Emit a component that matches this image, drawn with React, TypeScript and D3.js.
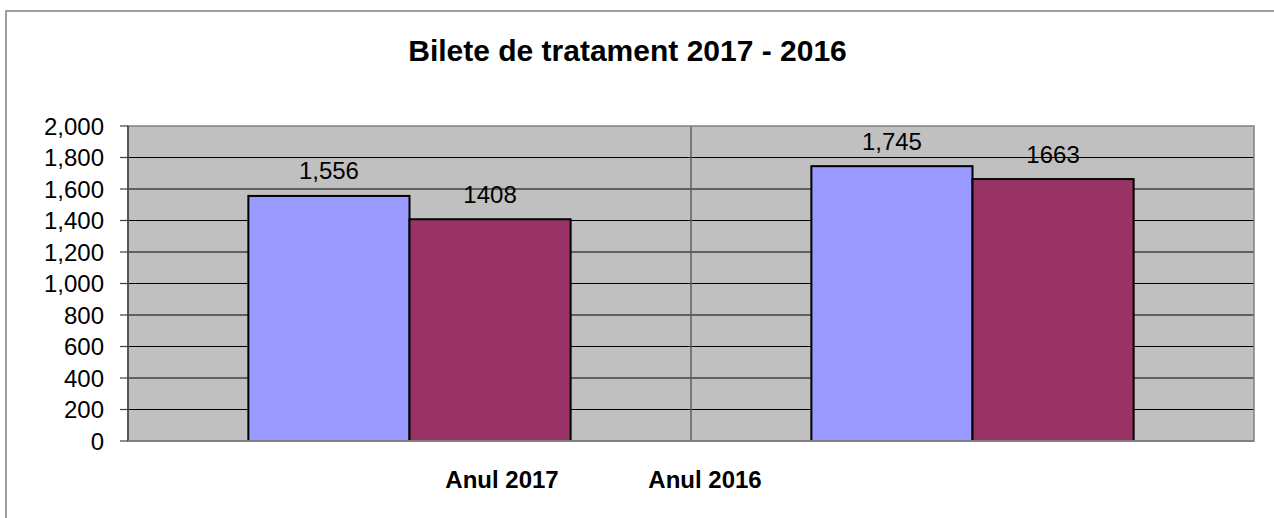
import React from 'react';
import * as d3 from 'd3';

// chart data
const categories = ['Anul 2017', 'Anul 2016'];
const seriesNames = ['Seria 1', 'Seria 2'];
const seriesBlue = [1556, 1745];
const seriesMaroon = [1408, 1663];
const yTicks = [0, 200, 400, 600, 800, 1000, 1200, 1400, 1600, 1800, 2000];
const titleText = 'Bilete de tratament 2017 - 2016';

const W = 1274;
const H = 518;
const plot = {left: 128, right: 1254, top: 126, bottom: 441};
const font = '"Liberation Sans", Arial, sans-serif';
const colors = ['#9999FF', '#993366'];
// the category labels sit off-centre in the original picture
const catLabelX = [502, 705];

export default function App() {
  const x = d3.scaleBand<string>().domain(categories).range([plot.left, plot.right]).paddingInner(0).paddingOuter(0);
  const xs = d3.scaleBand<string>().domain(seriesNames).range([0, x.bandwidth()]).paddingInner(0).paddingOuter(0.747);
  const y = d3.scaleLinear().domain([0, 2000]).range([plot.bottom, plot.top]);
  const fmt = d3.format(',');

  const series = [
    {name: seriesNames[0], values: seriesBlue, label: (v: number) => fmt(v)},
    {name: seriesNames[1], values: seriesMaroon, label: (v: number) => String(v)},
  ];

  return (
    <svg width={W} height={H} style={{position: 'absolute', left: 0, top: 0, background: '#fff'}} fontFamily={font}>
      {/* chart area border */}
      <rect x={6} y={11} width={W + 10} height={H + 10} fill="#fff" stroke="#808080" strokeWidth={1.5} />

      <text x={627.5} y={60.5} textAnchor="middle" fontSize={30} fontWeight="bold" fill="#000">{titleText}</text>

      {/* plot area */}
      <rect x={plot.left} y={plot.top} width={plot.right - plot.left} height={plot.bottom - plot.top} fill="#C0C0C0" />
      {yTicks.filter(t => t > 0 && t < 2000).map(t => (
        <line key={t} x1={plot.left} x2={plot.right} y1={y(t)} y2={y(t)} stroke="#000" strokeWidth={1.2} />
      ))}
      {categories.slice(1).map(c => (
        <line key={c} x1={x(c)!} x2={x(c)!} y1={plot.top} y2={plot.bottom} stroke="#606060" strokeWidth={1.5} />
      ))}
      <rect x={plot.left} y={plot.top} width={plot.right - plot.left} height={plot.bottom - plot.top} fill="none" stroke="#808080" strokeWidth={1.5} />

      {/* bars */}
      {series.map((s, si) => s.values.map((v, i) => {
        const bx = x(categories[i])! + xs(s.name)!;
        return (
          <g key={`${si}-${i}`}>
            <rect x={bx} y={y(v)} width={xs.bandwidth()} height={y(0) - y(v)} fill={colors[si]} stroke="#000" strokeWidth={2} />
            <text x={bx + xs.bandwidth() / 2} y={y(v) - 16.5} textAnchor="middle" fontSize={24} fill="#000">{s.label(v)}</text>
          </g>
        );
      }))}

      {/* y axis */}
      <line x1={plot.left} x2={plot.left} y1={plot.top} y2={plot.bottom} stroke="#404040" strokeWidth={1.5} />
      <line x1={plot.left} x2={plot.right} y1={plot.bottom} y2={plot.bottom} stroke="#808080" strokeWidth={2} />
      {yTicks.map(t => (
        <g key={t}>
          <line x1={plot.left - 8} x2={plot.left} y1={y(t)} y2={y(t)} stroke="#404040" strokeWidth={1.2} />
          <text x={104} y={y(t)} dy="0.36em" textAnchor="end" fontSize={24} fill="#000">{fmt(t)}</text>
        </g>
      ))}

      {/* category labels */}
      {categories.map((c, i) => (
        <text key={c} x={catLabelX[i]} y={488} textAnchor="middle" fontSize={24} fontWeight="bold" fill="#000">{c}</text>
      ))}
    </svg>
  );
}
